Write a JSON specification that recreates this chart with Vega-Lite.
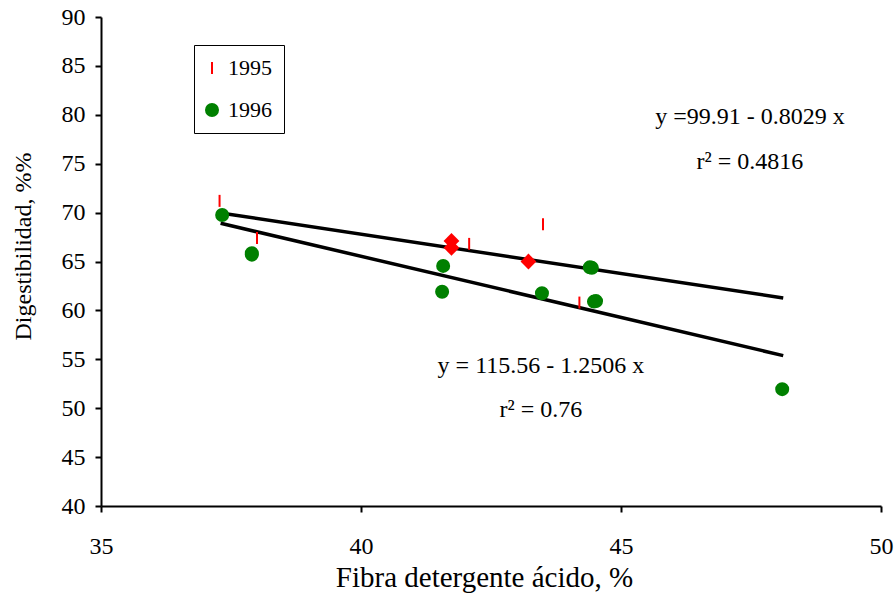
{
  "$schema": "https://vega.github.io/schema/vega-lite/v6.json",
  "width": 780,
  "height": 489,
  "autosize": "none",
  "padding": {"left": 101, "top": 17, "right": 13, "bottom": 95},
  "background": "white",
  "config": {
    "view": {"stroke": null},
    "font": "Liberation Serif",
    "axis": {
      "grid": false,
      "domainColor": "black",
      "domainWidth": 2,
      "tickColor": "black",
      "tickWidth": 2,
      "tickSize": 6,
      "labelFont": "Liberation Serif",
      "labelFontSize": 24,
      "labelColor": "black",
      "labelFlush": false,
      "titleFont": "Liberation Serif",
      "titleFontWeight": "normal",
      "titleColor": "black"
    }
  },
  "datasets": {
    "pts": [
      {"x": 37.28, "y": 71.2, "year": "1995"},
      {"x": 38.0, "y": 67.4, "year": "1995"},
      {"x": 42.08, "y": 66.8, "year": "1995"},
      {"x": 43.5, "y": 68.8, "year": "1995"},
      {"x": 44.2, "y": 60.8, "year": "1995"},
      {"x": 37.33, "y": 69.75, "year": "1996"},
      {"x": 37.9, "y": 65.7, "year": "1996"},
      {"x": 37.9, "y": 65.85, "year": "1996"},
      {"x": 41.58, "y": 64.55, "year": "1996"},
      {"x": 41.56, "y": 61.9, "year": "1996"},
      {"x": 43.48, "y": 61.75, "year": "1996"},
      {"x": 44.4, "y": 64.4, "year": "1996"},
      {"x": 44.44, "y": 64.35, "year": "1996"},
      {"x": 44.48, "y": 60.9, "year": "1996"},
      {"x": 44.52, "y": 60.95, "year": "1996"},
      {"x": 48.1, "y": 51.95, "year": "1996"}
    ],
    "diamonds": [
      {"x": 41.74, "y": 67.1},
      {"x": 41.74, "y": 66.4},
      {"x": 43.22, "y": 65.0}
    ],
    "lines": [
      {"x": 37.3, "y": 69.96, "fit": "a"},
      {"x": 48.12, "y": 61.27, "fit": "a"},
      {"x": 37.3, "y": 68.91, "fit": "b"},
      {"x": 48.12, "y": 55.38, "fit": "b"}
    ],
    "labels": [
      {"x": 47.48, "y": 79.8, "t": "y =99.91 - 0.8029 x"},
      {"x": 47.48, "y": 75.2, "t": "r² = 0.4816"},
      {"x": 43.46, "y": 54.3, "t": "y = 115.56 - 1.2506 x"},
      {"x": 43.46, "y": 49.8, "t": "r² = 0.76"}
    ]
  },
  "layer": [
    {
      "data": {"name": "lines"},
      "mark": {"type": "line", "color": "black", "strokeWidth": 3.5},
      "encoding": {
        "x": {"field": "x", "type": "quantitative", "scale": {"domain": [35, 50], "nice": false}, "axis": {"values": [35, 40, 45, 50], "title": "Fibra detergente ácido, %", "titleFontSize": 29, "titleX": 383, "labelPadding": 22, "titlePadding": 5}},
        "y": {"field": "y", "type": "quantitative", "scale": {"domain": [40, 90], "nice": false}, "axis": {"values": [40, 45, 50, 55, 60, 65, 70, 75, 80, 85, 90], "title": "Digestibilidad, %%", "titleFontSize": 24, "titleY": 229, "labelPadding": 10, "titlePadding": 26}},
        "detail": {"field": "fit"}
      }
    },
    {
      "data": {"name": "diamonds"},
      "mark": {"type": "point", "shape": "diamond", "filled": true, "color": "red", "size": 250, "opacity": 1},
      "encoding": {
        "x": {"field": "x", "type": "quantitative"},
        "y": {"field": "y", "type": "quantitative"}
      }
    },
    {
      "data": {"name": "pts"},
      "mark": {"type": "point", "filled": true, "opacity": 1, "strokeWidth": 2, "size": 144},
      "encoding": {
        "x": {"field": "x", "type": "quantitative"},
        "y": {"field": "y", "type": "quantitative"},
        "color": {"field": "year", "type": "nominal", "scale": {"domain": ["1995", "1996"], "range": ["red", "green"]},
          "legend": {"title": null, "orient": "none", "legendX": 93, "legendY": 28, "strokeColor": "black", "padding": 12, "rowPadding": 20, "labelFontSize": 22, "labelFont": "Liberation Serif", "labelColor": "black", "symbolSize": 144, "symbolStrokeWidth": 2, "symbolOffset": -5, "labelOffset": 5}},
        "stroke": {"field": "year", "type": "nominal", "scale": {"domain": ["1995", "1996"], "range": ["red", "green"]}},
        "shape": {"field": "year", "type": "nominal", "scale": {"domain": ["1995", "1996"], "range": ["M0,-1L0,1", "circle"]}}
      }
    },
    {
      "data": {"name": "labels"},
      "mark": {"type": "text", "font": "Liberation Serif", "fontSize": 24, "color": "black", "align": "center", "baseline": "middle"},
      "encoding": {
        "x": {"field": "x", "type": "quantitative"},
        "y": {"field": "y", "type": "quantitative"},
        "text": {"field": "t"}
      }
    }
  ]
}
